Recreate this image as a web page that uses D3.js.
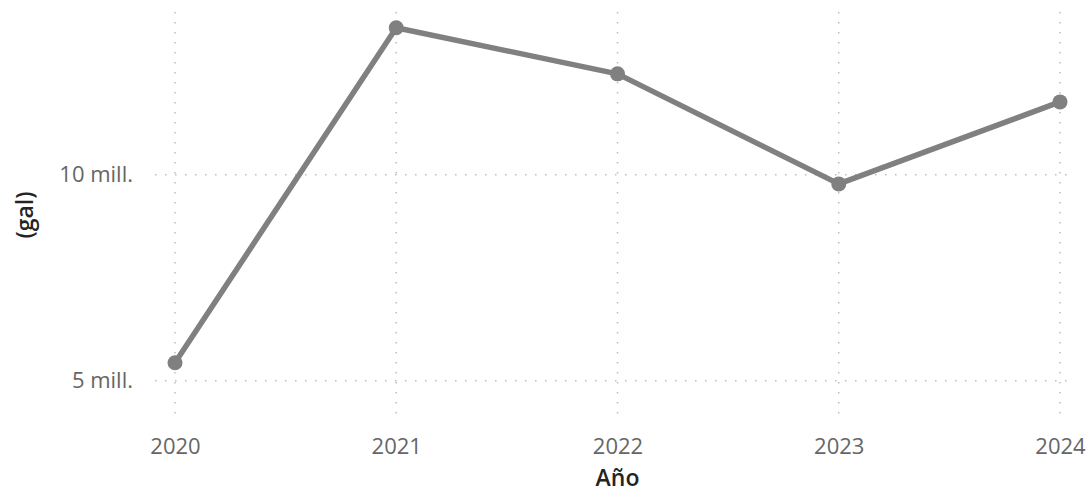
<!DOCTYPE html>
<html>
<head>
<meta charset="utf-8">
<script src="https://cdn.jsdelivr.net/npm/d3@7"></script>
<style>
  body { margin: 0; background: #fff; }
  text { font-family: "Open Sans", "Noto Sans", sans-serif; }
</style>
</head>
<body>
<svg id="chart" width="1088" height="493"></svg>
<script>
// data (gallons)
var years = ['2020', '2021', '2022', '2023', '2024']
var gallons = [5440000, 13570000, 12450000, 9780000, 11770000]
var yTicks = [5000000, 10000000]
var yTickLabels = ['5 mill.', '10 mill.']

var svg = d3.select('#chart')

// scales
var x = d3.scalePoint().domain(years).range([175, 1060])
var y = d3.scaleLinear().domain([4050000, 14000000]).range([420, 10])

// gridlines
var grid = svg.append('g')
grid.selectAll('line.v').data(years)
	.enter().append('line')
	.attr('x1', function(d) { return x(d) }).attr('x2', function(d) { return x(d) })
	.attr('y1', 12).attr('y2', 422)
	.attr('stroke', '#bdbdbd').attr('stroke-width', 1.5)
	.attr('stroke-dasharray', '1.5,8.5')

grid.selectAll('line.h').data(yTicks)
	.enter().append('line')
	.attr('x1', 155).attr('x2', 1075)
	.attr('y1', function(d) { return y(d) }).attr('y2', function(d) { return y(d) })
	.attr('stroke', '#bdbdbd').attr('stroke-width', 1.5)
	.attr('stroke-dasharray', '1.5,8.5')

// axes (labels only)
var yAxis = svg.append('g')
	.attr('transform', 'translate(143,0)')
	.call(d3.axisLeft(y).tickValues(yTicks).tickSize(0).tickPadding(10)
		.tickFormat(function(d, i) { return yTickLabels[i] }))
yAxis.select('.domain').remove()
yAxis.selectAll('text').attr('fill', '#666').style('font-size', '22px')

var xAxis = svg.append('g')
	.attr('transform', 'translate(0,434)')
	.call(d3.axisBottom(x).tickSize(0).tickPadding(4))
xAxis.select('.domain').remove()
xAxis.selectAll('text').attr('fill', '#666').style('font-size', '22px')

// axis titles
svg.append('text').text('Año')
	.attr('x', 617.5).attr('y', 486)
	.attr('text-anchor', 'middle')
	.attr('fill', '#252423')
	.style('font-size', '23px').style('font-weight', 600)

svg.append('text').text('(gal)')
	.attr('transform', 'translate(33,215) rotate(-90)')
	.attr('text-anchor', 'middle')
	.attr('fill', '#252423')
	.style('font-size', '23px').style('font-weight', 600)

// line + markers
var line = d3.line()
	.x(function(d, i) { return x(years[i]) })
	.y(function(d) { return y(d) })

svg.append('path').datum(gallons)
	.attr('d', line)
	.attr('fill', 'none')
	.attr('stroke', '#808080')
	.attr('stroke-width', 5.5)
	.attr('stroke-linejoin', 'round')

svg.selectAll('circle.pt').data(gallons)
	.enter().append('circle')
	.attr('cx', function(d, i) { return x(years[i]) })
	.attr('cy', function(d) { return y(d) })
	.attr('r', 7.5)
	.attr('fill', '#808080')
</script>
</body>
</html>
